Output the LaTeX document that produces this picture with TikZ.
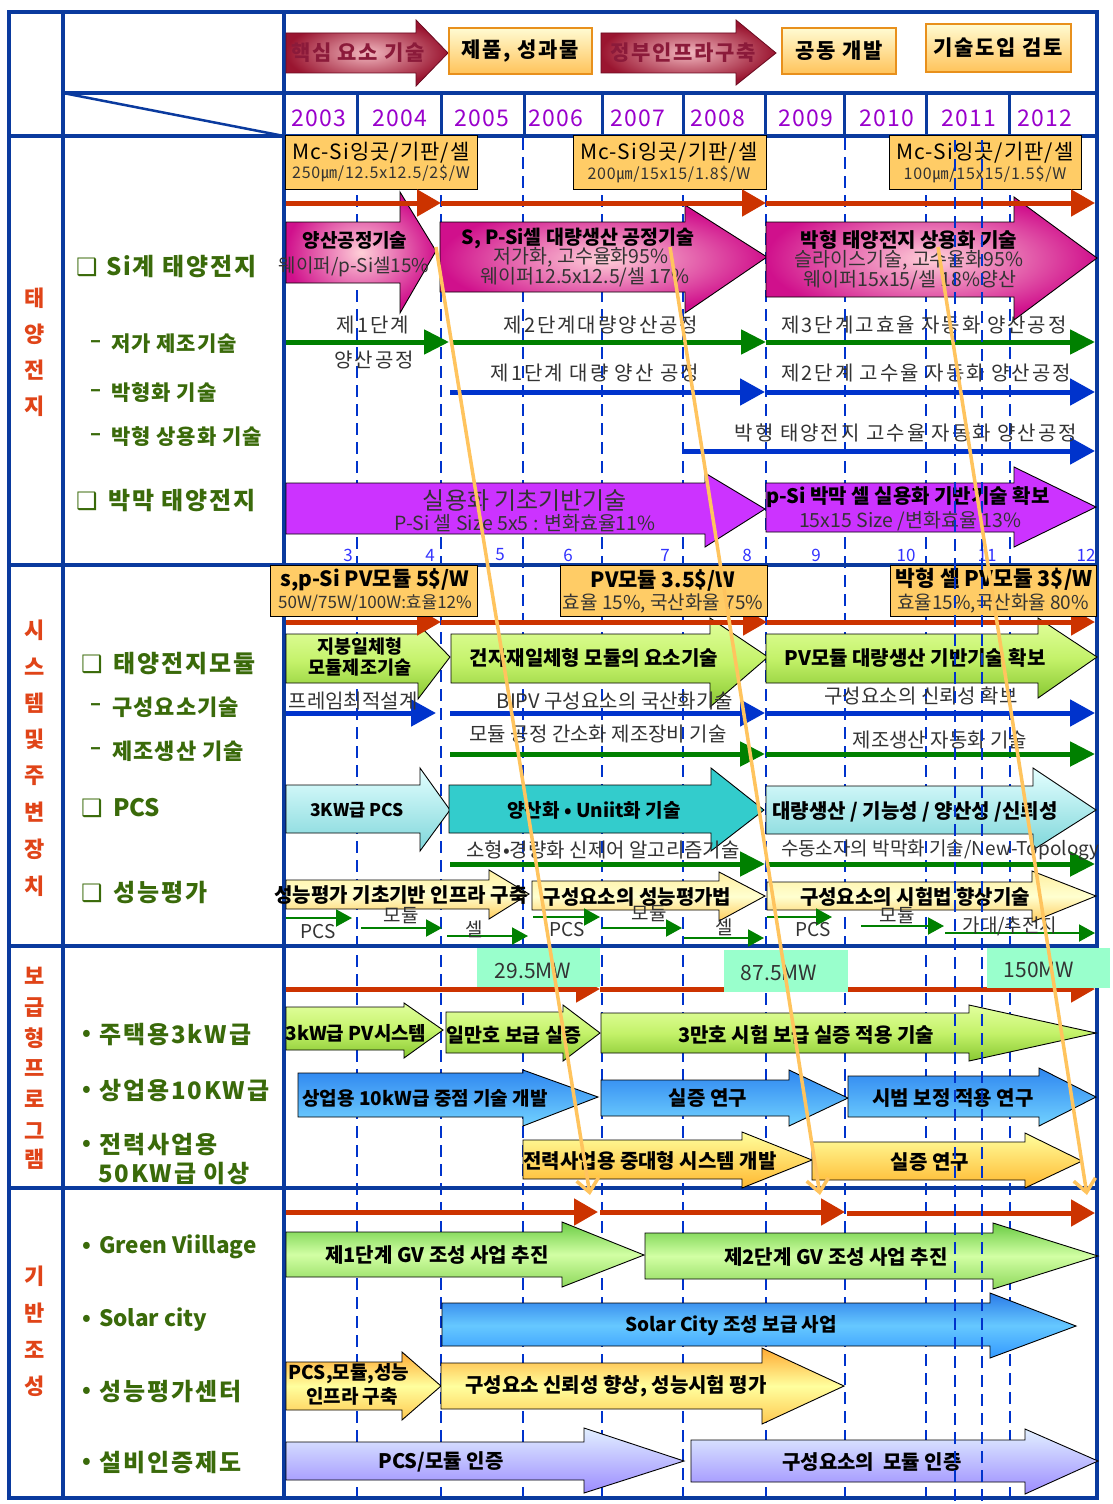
\documentclass[tikz,border=0pt]{standalone}
\usepackage{fontspec}
\setmainfont{Noto Sans CJK KR}
\newfontfamily\djv{DejaVu Sans}
\newfontfamily\lsA[LetterSpace=5]{Noto Sans CJK KR}
\newfontfamily\lsB[LetterSpace=8]{Noto Sans CJK KR}
\newfontfamily\lsC[LetterSpace=10]{Noto Sans CJK KR}
\usetikzlibrary{arrows.meta}
\definecolor{frameblue}{HTML}{0A3A9E}
\definecolor{dashblue}{HTML}{0033CC}
\definecolor{yearc}{HTML}{9900CC}
\definecolor{sectc}{HTML}{E04418}
\definecolor{itemc}{HTML}{3A6A0A}
\definecolor{redc}{HTML}{CC3300}
\definecolor{grnc}{HTML}{008000}
\definecolor{bluc}{HTML}{0033CC}
\definecolor{gtxt}{HTML}{333333}
\definecolor{numc}{HTML}{3333FF}
\definecolor{orgl}{HTML}{FFC45E}
\definecolor{mcfill}{HTML}{FFCC66}
\definecolor{mint}{HTML}{99FFCC}
\definecolor{hdline}{HTML}{6A0A20}
\definecolor{hdin}{HTML}{F2B8C0}
\definecolor{hdout}{HTML}{9A1530}
\definecolor{hdtext}{HTML}{8B1A3A}
\definecolor{pkin}{HTML}{FFD0D8}
\definecolor{pkout}{HTML}{D0108C}
\definecolor{purp}{HTML}{CC33FF}
\definecolor{lmtop}{HTML}{E2FF9E}
\definecolor{lmmid}{HTML}{C4F26A}
\definecolor{lmbot}{HTML}{88C832}
\definecolor{cytop}{HTML}{E4FFFF}
\definecolor{cybot}{HTML}{7ED6DA}
\definecolor{teal1}{HTML}{33CCCC}
\definecolor{yltop}{HTML}{FFEFA0}
\definecolor{ylmid}{HTML}{FFFFD0}
\definecolor{ylbot}{HTML}{FFCC5C}
\definecolor{bltop}{HTML}{2E86F0}
\definecolor{blbot}{HTML}{72D2FF}
\definecolor{ortop}{HTML}{FFFF9E}
\definecolor{orbot}{HTML}{FFB830}
\definecolor{gvtop}{HTML}{6ACC44}
\definecolor{gvmid}{HTML}{D2FFA4}
\definecolor{gvbot}{HTML}{8ED85C}
\definecolor{sotop}{HTML}{2A7AE8}
\definecolor{somid}{HTML}{66C8FF}
\definecolor{sobot}{HTML}{3399FF}
\definecolor{o2top}{HTML}{FFAA33}
\definecolor{o2mid}{HTML}{FFFF9E}
\definecolor{o2bot}{HTML}{FFC850}
\definecolor{lvtop}{HTML}{E2F0FF}
\definecolor{lvbot}{HTML}{9C8CFF}
\definecolor{lgline}{HTML}{E8901C}
\definecolor{lgtop}{HTML}{FFFBD2}
\definecolor{lgbot}{HTML}{FFC35A}
\newcommand\fsz[1]{\fontsize{#1}{#1}\selectfont}
\newcommand\blkarrow[9]{\path[#1] (#2,#5) -- (#3,#5) -- (#3,#7) -- (#4,#9) -- (#3,#8) -- (#3,#6) -- (#2,#6) -- cycle;}
\tikzset{
  every node/.style={inner sep=0pt, outer sep=0pt},
  frame/.style={draw=frameblue, line width=3.5pt},
  dashv/.style={draw=dashblue, line width=2.2pt, dash pattern=on 12pt off 7pt},
  redarr/.style={draw=redc, line width=5pt, -{Triangle[length=24pt,width=26pt]}},
  grnarr/.style={draw=grnc, line width=5pt, -{Triangle[length=25pt,width=24pt]}},
  bluarr/.style={draw=bluc, line width=5pt, -{Triangle[length=25pt,width=26pt]}},
  sgarr/.style={draw=grnc, line width=2pt, -{Triangle[length=16pt,width=17pt]}},
  orgline/.style={draw=orgl, line width=3.5pt, -{Straight Barb[length=13pt,width=22pt]}},
  headarr/.style={draw=hdline, line width=0.8pt, inner color=hdin, outer color=hdout},
  pinkarr/.style={draw=black, line width=0.9pt, inner color=pkin, outer color=pkout},
  purparr/.style={draw=black, line width=0.9pt, fill=purp},
  limearr/.style={draw=black, line width=0.9pt, top color=lmtop, bottom color=lmbot, middle color=lmmid},
  cyanarr/.style={draw=black, line width=0.9pt, top color=cytop, bottom color=cybot},
  tealarr/.style={draw=black, line width=0.9pt, fill=teal1},
  yelarr/.style={draw=black, line width=0.9pt, top color=yltop, bottom color=ylbot, middle color=ylmid},
  bluearr/.style={draw=black, line width=0.9pt, top color=bltop, bottom color=blbot},
  orgarr/.style={draw=black, line width=0.9pt, top color=ortop, bottom color=orbot},
  gvarr/.style={draw=black, line width=0.9pt, top color=gvtop, bottom color=gvbot, middle color=gvmid},
  solararr/.style={draw=black, line width=0.9pt, top color=sotop, bottom color=sobot, middle color=somid},
  org2arr/.style={draw=black, line width=0.9pt, top color=o2top, bottom color=o2bot, middle color=o2mid},
  lavarr/.style={draw=black, line width=0.9pt, top color=lvtop, bottom color=lvbot},
  legbox/.style={draw=lgline, line width=1.5pt, top color=lgtop, bottom color=lgbot, font=\lsB\fsz{21}\bfseries},
  mcbox/.style={draw=black, line width=1pt, fill=mcfill},
  mintbox/.style={fill=mint},
  hdtxt/.style={text=hdtext, font=\lsB\fsz{21}\bfseries},
  yr/.style={text=yearc, font=\lsA\fsz{23}},
  sect/.style={text=sectc, font=\fsz{22}\bfseries},
  item/.style={text=itemc, font=\lsB\fsz{24}\bfseries, anchor=west},
  itemL/.style={text=itemc, font=\fsz{22.5}\bfseries, anchor=west},
  sub/.style={text=itemc, font=\lsA\fsz{21}\bfseries, anchor=west},
  sub2/.style={text=itemc, font=\lsA\fsz{22}\bfseries, anchor=west},
  dsh/.style={text=itemc, font=\fsz{20}\bfseries},
  bul/.style={text=itemc, font=\fsz{22}\bfseries},
  sq/.style={text=itemc, font=\djv\bfseries\fsz{24}},
  lbl/.style={text=gtxt, font=\lsC\fsz{20}},
  slbl/.style={text=gtxt, font=\fsz{20}},
  tl/.style={text=black, font=\fsz{20}\bfseries},
  tls/.style={text=gtxt, font=\fsz{19.5}},
  num/.style={text=numc, font=\fsz{17}},
  small/.style={text=gtxt, font=\fsz{19}},
}
\begin{document}
\begin{tikzpicture}[x=1pt,y=-1pt]
\useasboundingbox (0,0) rectangle (1112,1504);
\fill[white] (0,0) rectangle (1112,1504);

% dashed year lines (behind)
\foreach \xx in {357,441,523,602,683,766,845,926,1010} \draw[dashv] (\xx,138) -- (\xx,1498);

% frame
\draw[frame] (9,12) rectangle (1097,1498);
\draw[frame] (63,12) -- (63,1498);
\draw[frame] (284,12) -- (284,1498);
\draw[frame] (63,93) -- (1097,93);
\draw[frame] (9,136) -- (1097,136);
\draw[frame] (9,565) -- (1097,565);
\draw[frame] (9,946) -- (1097,946);
\draw[frame] (9,1188) -- (1097,1188);
\draw[draw=frameblue, line width=2.5pt] (63,93) -- (284,136);
\foreach \xx in {357,441,524,602,683,765,844,926,1009} \draw[draw=frameblue, line width=3pt] (\xx,93) -- (\xx,136);

% header legend
\blkarrow{headarr}{286}{416}{448}{33}{73}{20}{86}{53}
\node[hdtxt] (hk) at (358,53) {핵심 요소 기술};
\node[legbox, minimum width=143pt, minimum height=46pt] (lg1) at (520.5,51) {제품, 성과물};
\blkarrow{headarr}{601}{736}{776}{33}{73}{20}{85}{53}
\node[hdtxt] (hg) at (683,53) {정부인프라구축};
\node[legbox, minimum width=114pt, minimum height=46pt] (lg2) at (839,51) {공동 개발};
\node[legbox, minimum width=145pt, minimum height=48pt] (lg3) at (998.5,48) {기술도입 검토};

% years
\node[yr] (y03) at (319,118) {2003};
\node[yr] (y04) at (400,118) {2004};
\node[yr] (y05) at (482,118) {2005};
\node[yr] (y06) at (556,118) {2006};
\node[yr] (y07) at (638,118) {2007};
\node[yr] (y08) at (718,118) {2008};
\node[yr] (y09) at (806,118) {2009};
\node[yr] (y10) at (887,118) {2010};
\node[yr] (y11) at (969,118) {2011};
\node[yr] (y12) at (1045,118) {2012};

% section labels
\foreach \c/\yy [count=\i] in {태/298,양/334,전/370,지/406} \node[sect] (sa\i) at (35,\yy) {\c};
\foreach \c/\yy [count=\i] in {시/630,스/667,템/703,및/739,주/776,변/812,장/849,치/886} \node[sect] (sb\i) at (35,\yy) {\c};
\foreach \c/\yy [count=\i] in {보/976,급/1008,형/1038,프/1068,로/1099,그/1131,램/1159} \node[sect] (sc\i) at (35,\yy) {\c};
\foreach \c/\yy [count=\i] in {기/1276,반/1313,조/1350,성/1386} \node[sect] (sd\i) at (35,\yy) {\c};

% items
\node[sq] (q1) at (87,267) {❑};
\node[item] (i1) at (106,267) {Si계 태양전지};
\node[dsh] (d2) at (96,344) {–}; \node[sub] (i2) at (111,344) {저가 제조기술};
\node[dsh] (d3) at (96,393) {–}; \node[sub] (i3) at (111,393) {박형화 기술};
\node[dsh] (d4) at (96,437) {–}; \node[sub] (i4) at (111,437) {박형 상용화 기술};
\node[sq] (q2) at (87,501) {❑};
\node[item] (i5) at (108,501) {박막 태양전지};
\node[sq] (q3) at (92,664) {❑};
\node[item] (i6) at (113,664) {태양전지모듈};
\node[dsh] (d7) at (96,707) {–}; \node[sub2] (i7) at (112,707) {구성요소기술};
\node[dsh] (d8) at (96,751) {–}; \node[sub2] (i8) at (112,751) {제조생산 기술};
\node[sq] (q4) at (92,808) {❑};
\node[itemL, font=\fsz{24}\bfseries] (i9) at (113,808) {PCS};
\node[sq] (q5) at (92,893) {❑};
\node[item] (i10) at (113,893) {성능평가};
\foreach \yy [count=\i] in {1035,1091,1145,1247,1320,1392,1463} \node[bul] (bu\i) at (87,\yy) {•};
\node[item] (i11) at (99,1035) {주택용3kW급};
\node[item] (i12) at (99,1091) {상업용10KW급};
\node[item] (i13) at (99,1145) {전력사업용};
\node[item] (i14) at (98,1174) {50KW급 이상};
\node[itemL] (i15) at (99,1247) {Green Viillage};
\node[itemL] (i16) at (99,1320) {Solar city};
\node[item] (i17) at (99,1392) {성능평가센터};
\node[item] (i18) at (99,1463) {설비인증제도};

% ===== Section 1 =====
\node[mcbox, minimum width=192pt, minimum height=54pt] (mc1) at (381,162) {};
\node[font=\lsA\fsz{21}] (mc1a) at (381,153) {Mc-Si잉곳/기판/셀};
\node[font=\lsA\fsz{16}, text=gtxt] (mc1b) at (381,173) {250㎛/12.5x12.5/2\$/W};
\node[mcbox, minimum width=193pt, minimum height=54pt] (mc2) at (669.5,162) {};
\node[font=\lsA\fsz{21}] (mc2a) at (669,153) {Mc-Si잉곳/기판/셀};
\node[font=\lsA\fsz{16}, text=gtxt] (mc2b) at (669,174) {200㎛/15x15/1.8\$/W};
\node[mcbox, minimum width=192pt, minimum height=54pt] (mc3) at (985,162) {};
\node[font=\lsA\fsz{21}] (mc3a) at (985,153) {Mc-Si잉곳/기판/셀};
\node[font=\lsA\fsz{16}, text=gtxt] (mc3b) at (985,174) {100㎛/15x15/1.5\$/W};

\blkarrow{pinkarr}{286}{400}{436}{222}{283}{192}{313}{251}
\node[font=\fsz{19}\bfseries] (p1a) at (355,240) {양산공정기술};
\node[tls, font=\fsz{19}] (p1b) at (354,267) {웨이퍼/p-Si셀15\%};
\blkarrow{pinkarr}{440}{685}{767}{222}{292}{205}{313}{257}
\node[tl, font=\fsz{19.5}\bfseries] (p2a) at (578,238) {S, P-Si셀 대량생산 공정기술};
\node[tls] (p2b) at (581,257) {저가화, 고수율화95\%};
\node[tls] (p2c) at (585,277) {웨이퍼12.5x12.5/셀 17\%};
\blkarrow{pinkarr}{766}{1014}{1097}{222}{297}{197}{320}{258}
\node[tl] (p3a) at (909,240) {박형 태양전지 상용화 기술};
\node[tls] (p3b) at (909,260) {슬라이스기술, 고수율화95\%};
\node[tls] (p3c) at (910,280) {웨이퍼15x15/셀 18\%양산};

\coordinate (r1a) at (286,203); \coordinate (r1b) at (441,203); \coordinate (r1c) at (766,203); \coordinate (r1d) at (1095,203);
\draw[redarr] (r1a) -- (r1b);
\draw[redarr] (r1b) -- (r1c);
\draw[redarr] (r1c) -- (r1d);

\coordinate (g1a) at (286,342); \coordinate (g1b) at (449,342); \coordinate (g1c) at (450,342); \coordinate (g1d) at (766,342); \coordinate (g1e) at (1095,342);
\draw[grnarr] (g1a) -- (g1b);
\draw[grnarr] (g1c) -- (g1d);
\draw[grnarr] (g1d) -- (g1e);
\node[lbl] (l1) at (373,325) {제1단계};
\node[lbl] (l2) at (374,360) {양산공정};
\node[lbl] (l3) at (601,325) {제2단계대량양산공정};
\node[lbl] (l4) at (924,325) {제3단계고효율 자동화 양산공정};

\coordinate (b1a) at (450,392); \coordinate (b1b) at (765,392); \coordinate (b1c) at (767,392); \coordinate (b1d) at (1095,392);
\draw[bluarr] (b1a) -- (b1b);
\draw[bluarr] (b1c) -- (b1d);
\node[lbl] (l5) at (595,373) {제1단계 대량 양산 공정};
\node[lbl] (l6) at (926,373) {제2단계 고수율 자동화 양산공정};
\coordinate (b2a) at (684,451); \coordinate (b2b) at (1095,451);
\draw[bluarr] (b2a) -- (b2b);
\node[lbl] (l7) at (906,433) {박형 태양전지 고수율 자동화 양산공정};

\blkarrow{purparr}{286}{705}{765}{483}{534}{473}{547}{509}
\node[font=\fsz{24}, text=gtxt] (u1a) at (525,501) {실용화 기초기반기술};
\node[tls] (u1b) at (525,523) {P-Si 셀 Size 5x5 : 변화효율11\%};
\blkarrow{purparr}{766}{1014}{1096}{483}{532}{467}{547}{507}
\node[tl] (u2a) at (908,497) {p-Si 박막 셀 실용화 기반기술 확보};
\node[tls] (u2b) at (910,521) {15x15 Size /변화효율 13\%};

\foreach \n/\xx in {3/348,4/430,5/500,6/568,7/665,8/747,9/816,10/906,11/987,12/1086} \node[num] (n\n) at (\xx,555) {\n};

% ===== Section 2 =====
\blkarrow{limearr}{286}{418}{450}{634}{683}{624}{699}{657}
\node[font=\fsz{18.5}\bfseries] (m1a) at (360,647) {지붕일체형};
\node[font=\fsz{18.5}\bfseries] (m1b) at (360,668) {모듈제조기술};
\blkarrow{limearr}{451}{710}{768}{634}{683}{618}{707}{657}
\node[tl] (m2) at (594,658) {건자재일체형 모듈의 요소기술};
\blkarrow{limearr}{766}{1038}{1097}{634}{683}{618}{698}{657}
\node[tl] (m3) at (915,658) {PV모듈 대량생산 기반기술 확보};

\coordinate (r2a) at (286,622); \coordinate (r2b) at (441,622); \coordinate (r2c) at (767,622); \coordinate (r2d) at (1095,622);
\draw[redarr] (r2a) -- (r2b);
\draw[redarr] (r2b) -- (r2c);
\draw[redarr] (r2c) -- (r2d);

\node[mcbox, minimum width=207pt, minimum height=51pt] (sp1) at (373.5,590.5) {};
\node[font=\fsz{21}\bfseries] (sp1a) at (375,580) {s,p-Si PV모듈 5\$/W};
\node[font=\fsz{17}, text=gtxt] (sp1b) at (375,603) {50W/75W/100W:효율12\%};
\node[mcbox, minimum width=207pt, minimum height=51pt] (sp2) at (663.5,590.5) {};
\node[font=\fsz{21}\bfseries] (sp2a) at (663,580) {PV모듈 3.5\$/W};
\node[font=\fsz{19}, text=gtxt] (sp2b) at (663,603) {효율 15\%, 국산화율 75\%};
\node[mcbox, minimum width=206pt, minimum height=51pt] (sp3) at (993,590.5) {};
\node[font=\fsz{21.5}\bfseries] (sp3a) at (994,579) {박형 셀 PV모듈 3\$/W};
\node[font=\fsz{19}, text=gtxt] (sp3b) at (993,603) {효율15\%,국산화율 80\%};

\coordinate (b3a) at (286,713); \coordinate (b3b) at (436,713); \coordinate (b3c) at (450,713); \coordinate (b3d) at (765,713); \coordinate (b3e) at (766,713); \coordinate (b3f) at (1095,713);
\draw[bluarr] (b3a) -- (b3b);
\draw[bluarr] (b3c) -- (b3d);
\draw[bluarr] (b3e) -- (b3f);
\node[slbl] (l8) at (353,701) {프레임최적설계};
\node[slbl] (l9) at (615,701) {BIPV 구성요소의 국산화기술};
\node[slbl] (l10) at (921,696) {구성요소의 신뢰성 확보};
\coordinate (g2a) at (450,754); \coordinate (g2b) at (765,754); \coordinate (g2c) at (766,754); \coordinate (g2d) at (1095,754);
\draw[grnarr] (g2a) -- (g2b);
\draw[grnarr] (g2c) -- (g2d);
\node[slbl] (l11) at (598,734) {모듈 공정 간소화 제조장비 기술};
\node[slbl] (l12) at (940,740) {제조생산 자동화 기술};

\blkarrow{cyanarr}{286}{420}{450}{785}{833}{768}{851}{810}
\node[font=\fsz{17.5}\bfseries] (c1) at (357,810) {3KW급 PCS};
\blkarrow{tealarr}{449}{711}{764}{785}{833}{768}{851}{810}
\node[font=\fsz{19}\bfseries] (c2) at (594,810) {양산화 • Uniit화 기술};
\blkarrow{cyanarr}{766}{1033}{1096}{786}{834}{768}{850}{810}
\node[tl] (c3) at (915,812) {대량생산 / 기능성 / 양산성 /신뢰성};

\coordinate (g3a) at (450,864); \coordinate (g3b) at (765,864); \coordinate (g3c) at (766,864); \coordinate (g3d) at (1095,864);
\draw[grnarr] (g3a) -- (g3b);
\draw[grnarr] (g3c) -- (g3d);
\node[slbl] (l13) at (603,850) {소형•경량화 신제어 알고리즘기술};
\node[slbl, font=\fsz{19}, anchor=west] (l14) at (781,850) {수동소자의 박막화 기술/New-Topology};

\blkarrow{yelarr}{286}{489}{529}{880}{909}{870}{919}{894}
\node[tl] (e1) at (401,895) {성능평가 기초기반 인프라 구축};
\blkarrow{yelarr}{532}{719}{765}{881}{910}{872}{921}{896}
\node[tl] (e2) at (637,897) {구성요소의 성능평가법};
\blkarrow{yelarr}{767}{1032}{1096}{882}{910}{871}{922}{896}
\node[tl] (e3) at (915,897) {구성요소의 시험법 향상기술};

\foreach \xa/\xb/\yy [count=\i] in {286/352/918,361/442/928,447/528/936,533/600/917,602/682/928,684/764/938,767/832/917,861/944/926,945/1095/933}
  {\coordinate (sga\i) at (\xa,\yy); \coordinate (sgb\i) at (\xb,\yy); \draw[sgarr] (sga\i) -- (sgb\i);}
\node[small] (s1) at (318,932) {PCS};
\node[small] (s2) at (401,916) {모듈};
\node[small] (s3) at (474,929) {셀};
\node[small] (s4) at (567,930) {PCS};
\node[small] (s5) at (649,914) {모듈};
\node[small] (s6) at (724,927) {셀};
\node[small] (s7) at (813,930) {PCS};
\node[small] (s8) at (897,916) {모듈};
\node[small] (s9) at (1010,926) {가대/추전지};

% ===== Section 3 =====
\coordinate (r3a) at (286,989); \coordinate (r3b) at (600,989); \coordinate (r3c) at (1095,989);
\draw[redarr] (r3a) -- (r3b);
\draw[redarr] (r3b) -- (r3c);
\node[mintbox, minimum width=123pt, minimum height=39pt] (mw1) at (538.5,967) {};
\node[font=\fsz{21}, text=gtxt] (mw1t) at (533,971) {29.5MW};
\node[mintbox, minimum width=124pt, minimum height=42pt] (mw2) at (786,971) {};
\node[font=\fsz{21}, text=gtxt] (mw2t) at (779,973) {87.5MW};
\node[mintbox, minimum width=123pt, minimum height=40pt] (mw3) at (1048.5,967.5) {};
\node[font=\fsz{21}, text=gtxt] (mw3t) at (1039,970) {150MW};

\blkarrow{limearr}{286}{404}{443}{1007}{1050}{1003}{1058}{1030}
\node[font=\fsz{19}\bfseries] (h1) at (356,1033) {3kW급 PV시스템};
\blkarrow{limearr}{446}{563}{600}{1012}{1053}{1005}{1061}{1033}
\node[font=\fsz{19.5}\bfseries] (h2) at (514,1035) {일만호 보급 실증};
\blkarrow{limearr}{601}{969}{1096}{1013}{1053}{1005}{1061}{1033}
\node[tl] (h3) at (806,1035) {3만호 시험 보급 실증 적용 기술};

\blkarrow{bluearr}{298}{523}{598}{1073}{1117}{1070}{1126}{1097}
\node[tl, font=\fsz{19}\bfseries] (k1) at (425,1098) {상업용 10kW급 중점 기술 개발};
\blkarrow{bluearr}{601}{789}{848}{1080}{1116}{1070}{1126}{1098}
\node[tl] (k2) at (708,1098) {실증 연구};
\blkarrow{bluearr}{848}{1039}{1096}{1076}{1117}{1068}{1126}{1097}
\node[tl] (k3) at (953,1098) {시범 보정 적용 연구};

\blkarrow{orgarr}{523}{742}{812}{1140}{1179}{1132}{1188}{1160}
\node[tl] (o1) at (650,1161) {전력사업용 중대형 시스템 개발};
\blkarrow{orgarr}{812}{1025}{1082}{1142}{1180}{1133}{1188}{1161}
\node[tl] (o2) at (930,1162) {실증 연구};

% ===== Section 4 =====
\coordinate (r4a) at (286,1212); \coordinate (r4b) at (598,1212); \coordinate (r4c) at (600,1212); \coordinate (r4d) at (845,1212); \coordinate (r4e) at (847,1213); \coordinate (r4f) at (1095,1213);
\draw[redarr] (r4a) -- (r4b);
\draw[redarr] (r4c) -- (r4d);
\draw[redarr] (r4e) -- (r4f);

\blkarrow{gvarr}{286}{562}{644}{1232}{1277}{1222}{1287}{1255}
\node[tl] (v1) at (437,1255) {제1단계 GV 조성 사업 추진};
\blkarrow{gvarr}{645}{993}{1098}{1233}{1279}{1223}{1289}{1256}
\node[tl] (v2) at (836,1257) {제2단계 GV 조성 사업 추진};
\blkarrow{solararr}{442}{990}{1076}{1303}{1346}{1293}{1358}{1326}
\node[tl, font=\fsz{19}\bfseries] (v3) at (731,1326) {Solar City 조성 보급 사업};
\blkarrow{org2arr}{286}{402}{441}{1362}{1410}{1352}{1420}{1386}
\node[font=\fsz{19}\bfseries] (v4a) at (349,1374) {PCS,모듈,성능};
\node[font=\fsz{19}\bfseries] (v4b) at (352,1396) {인프라 구축};
\blkarrow{org2arr}{441}{762}{844}{1363}{1409}{1348}{1424}{1386}
\node[tl] (v5) at (616,1386) {구성요소 신뢰성 향상, 성능시험 평가};
\blkarrow{lavarr}{286}{584}{684}{1442}{1480}{1428}{1493}{1461}
\node[tl] (v6) at (441,1462) {PCS/모듈 인증};
\blkarrow{lavarr}{691}{1025}{1098}{1440}{1482}{1429}{1494}{1461}
\node[tl] (v7) at (872,1462) {구성요소의\ \ 모듈 인증};

% top-layer dashed lines
\foreach \xx in {955,982} \draw[dashv] (\xx,140) -- (\xx,1504);

% orange diagonal connectors
\coordinate (os1) at (436,247); \coordinate (oe1) at (590,1195);
\coordinate (os2) at (670,247); \coordinate (oe2) at (820,1195);
\coordinate (os3) at (938,247); \coordinate (oe3) at (1087,1195);
\draw[orgline] (os1) -- (oe1);
\draw[orgline] (os2) -- (oe2);
\draw[orgline] (os3) -- (oe3);
\end{tikzpicture}
\end{document}
